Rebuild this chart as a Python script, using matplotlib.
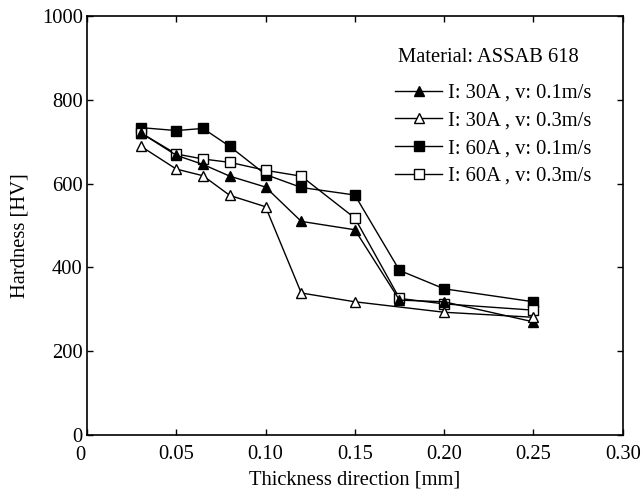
import matplotlib
matplotlib.use("Agg")
import matplotlib.pyplot as plt
import matplotlib.transforms as mtransforms

# data
x_30a_01 = [0.03, 0.05, 0.065, 0.08, 0.10, 0.12, 0.15, 0.175, 0.20, 0.25]
hv_30a_01 = [722, 668, 646, 618, 592, 510, 490, 322, 318, 270]

x_30a_03 = [0.03, 0.05, 0.065, 0.08, 0.10, 0.12, 0.15, 0.20, 0.25]
hv_30a_03 = [690, 635, 619, 572, 545, 339, 318, 293, 281]

x_60a_01 = [0.03, 0.05, 0.065, 0.08, 0.10, 0.12, 0.15, 0.175, 0.20, 0.25]
hv_60a_01 = [734, 727, 732, 689, 622, 591, 573, 393, 349, 318]

x_60a_03 = [0.03, 0.05, 0.065, 0.08, 0.10, 0.12, 0.15, 0.175, 0.20, 0.25]
hv_60a_03 = [722, 671, 659, 651, 632, 618, 518, 326, 313, 298]

labels = ["I: 30A , v: 0.1m/s", "I: 30A , v: 0.3m/s",
          "I: 60A , v: 0.1m/s", "I: 60A , v: 0.3m/s"]
xticks = [0, 0.05, 0.10, 0.15, 0.20, 0.25, 0.30]
xticklabels = ["0", "0.05", "0.10", "0.15", "0.20", "0.25", "0.30"]
yticks = [0, 200, 400, 600, 800, 1000]

plt.rcParams['font.family'] = ['Liberation Serif', 'DejaVu Serif']
fs = 14.8

fig = plt.figure(figsize=(6.44, 4.92), dpi=100)
ax = fig.add_axes([0.135, 0.116, 0.832, 0.851])

style = dict(color='black', linewidth=1.0, markersize=7.5, markeredgewidth=1.0,
             markeredgecolor='black')
ax.plot(x_60a_01, hv_60a_01, marker='s', markerfacecolor='black', label=labels[2], **style)
ax.plot(x_60a_03, hv_60a_03, marker='s', markerfacecolor='white', label=labels[3], **style)
ax.plot(x_30a_01, hv_30a_01, marker='^', markerfacecolor='black', label=labels[0], **style)
ax.plot(x_30a_03, hv_30a_03, marker='^', markerfacecolor='white', label=labels[1], **style)

ax.set_xlim(0, 0.30)
ax.set_ylim(0, 1000)
ax.set_xticks(xticks)
ax.set_xticklabels(xticklabels)
ax.set_yticks(yticks)
ax.tick_params(direction='in', top=True, right=True, length=4, width=1,
               labelsize=fs, pad=3)
ax.tick_params(axis='x', pad=7.5)
for s in ax.spines.values():
    s.set_linewidth(1.2)

# the "0" under the corner sits a little to the left, just below the y "0"
lab0 = ax.get_xticklabels()[0]
lab0.set_transform(lab0.get_transform() +
                   mtransforms.ScaledTranslation(-7 / 100, -1 / 100, fig.dpi_scale_trans))

ax.set_xlabel("Thickness direction [mm]", fontsize=fs, labelpad=4)
ax.set_ylabel("Hardness [HV]", fontsize=fs)
ax.yaxis.set_label_coords(-0.108, 0.477)

ax.text(0.174, 902, "Material: ASSAB 618", fontsize=fs, ha='left', va='center')

handles, labs = ax.get_legend_handles_labels()
order = [2, 3, 0, 1]
leg = ax.legend([handles[i] for i in order], [labs[i] for i in order],
                loc='upper left', bbox_to_anchor=(0.575, 0.839), frameon=False,
                handlelength=2.3, handletextpad=0.3, labelspacing=0.4,
                borderaxespad=0, borderpad=0, fontsize=fs)

fig.savefig("out.png", dpi=100)
